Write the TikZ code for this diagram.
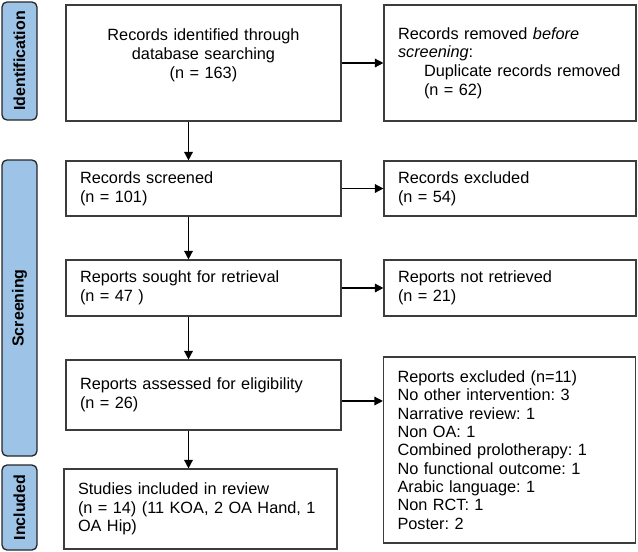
\documentclass[tikz,border=0pt]{standalone}
\usepackage{fontspec}
\setmainfont{Liberation Sans}
\usetikzlibrary{arrows.meta}
\definecolor{tabblue}{RGB}{157,195,230}
\definecolor{boxline}{RGB}{60,60,60}
\frenchspacing

\begin{document}
\begin{tikzpicture}[x=1pt,y=-1pt,
    box/.style={draw=boxline,line width=1.1pt,fill=white,inner xsep=14pt,inner ysep=3pt,
        font=\fontsize{16.3}{18.7}\selectfont},
    lbox/.style={box,text width=247pt,align=left},
    rbox/.style={box,text width=224pt,align=left},
    stage/.style={draw=black!85,line width=1.3pt,fill=tabblue,rounded corners=5pt,rotate=90,
        minimum height=35pt,inner sep=0pt,font=\fontsize{16}{18}\selectfont\bfseries},
    arr/.style={line width=1.4pt,-{Triangle[length=8.5pt,width=8.5pt]}}]
  \useasboundingbox (0,0) rectangle (638,552);

  \node[stage,minimum width=118pt] (tabid) at (19.5,61) {Identification};
  \node[stage,minimum width=296pt] (tabscr) at (19.5,308) {Screening};
  \node[stage,minimum width=85pt] (tabinc) at (19.5,507.5) {Included};

  \node[box,text width=247pt,align=center,minimum height=116pt] (found) at (203.5,63)
    {Records identified through\\database searching\\(n = 163)\\ ~};
  \node[rbox,minimum height=116pt] (removed) at (510,63)
    {Records removed \textit{before}\\\textit{screening}:\\
     \hspace*{26pt}Duplicate records removed\\\hspace*{26pt}(n = 62)};

  \node[lbox,minimum height=55pt] (screened) at (203.5,188.5)
    {Records screened\\(n = 101)};
  \node[rbox,minimum height=55pt] (excluded) at (510,188.5)
    {Records excluded\\(n = 54)};

  \node[lbox,minimum height=56pt] (sought) at (203.5,288)
    {Reports sought for retrieval\\(n = 47 )};
  \node[rbox,minimum height=56pt] (notret) at (510,288)
    {Reports not retrieved\\(n = 21)};

  \node[lbox,minimum height=70pt] (assessed) at (203.5,395)
    {Reports assessed for eligibility\\(n = 26)};
  \node[rbox,minimum height=186pt,font=\fontsize{16.3}{18.3}\selectfont] (reasons) at (509.5,450)
    {Reports excluded (n=11)\\No other intervention: 3\\Narrative review: 1\\Non OA: 1\\
     Combined prolotherapy: 1\\No functional outcome: 1\\Arabic language: 1\\Non RCT: 1\\Poster: 2};

  \node[box,text width=245pt,align=left,minimum height=80pt] (included) at (200.5,509)
    {Studies included in review\\(n = 14) (11 KOA, 2 OA Hand, 1\\OA Hip)};

  \draw[arr] (found) -- (removed);
  \draw[arr] (screened) -- (excluded);
  \draw[arr] (sought) -- (notret);
  \draw[arr] ([yshift=-6pt]assessed.east) -- ([yshift=-6pt]assessed.east -| reasons.west);

  \draw[arr] ([xshift=-15pt]found.south) -- ([xshift=-15pt]found.south |- screened.north);
  \draw[arr] ([xshift=-15pt]screened.south) -- ([xshift=-15pt]screened.south |- sought.north);
  \draw[arr] ([xshift=-15pt]sought.south) -- ([xshift=-15pt]sought.south |- assessed.north);
  \draw[arr] ([xshift=-15pt]assessed.south) -- ([xshift=-15pt]assessed.south |- included.north);
\end{tikzpicture}
\end{document}
